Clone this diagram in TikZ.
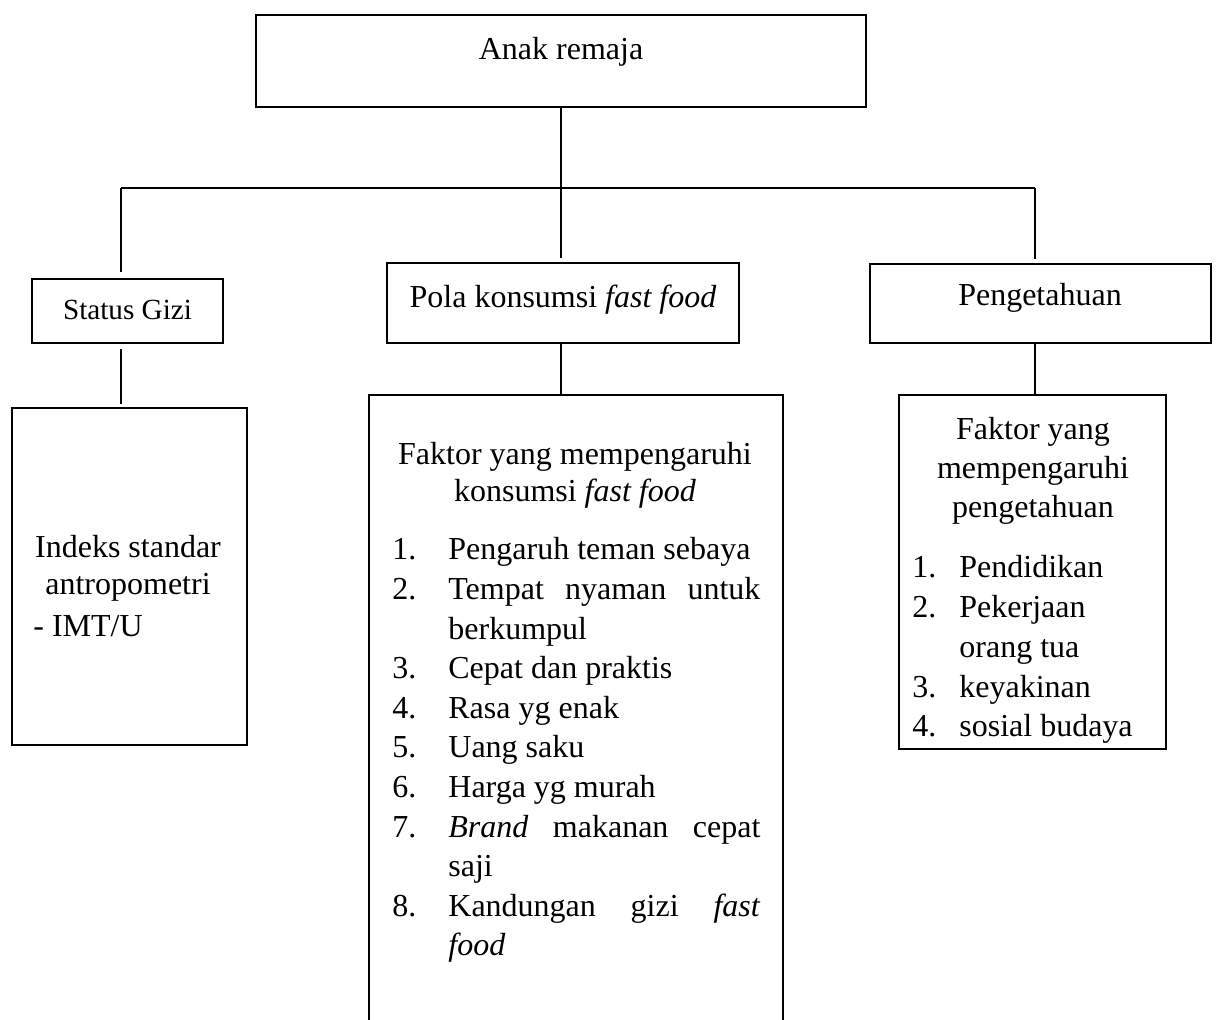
\documentclass[tikz,border=0pt]{standalone}
\usepackage{fontspec}
\setmainfont{Liberation Serif}
\begin{document}
\begin{tikzpicture}[x=0.5pt,y=-0.5pt,
  box/.style={draw, line width=1.25pt, inner sep=0pt, outer sep=0pt, anchor=north west},
  conn/.style={line width=1pt},
  txt/.style={inner sep=0pt, font=\fontsize{16}{19.8}\selectfont}]
\clip (0,0) rectangle (1216,1020);
\fill[white] (0,0) rectangle (1216,1020);

% boxes
\node[box, minimum width=305pt, minimum height=46pt] (top) at (256,15) {};
\node[box, minimum width=95.5pt, minimum height=32pt] (status) at (32,279) {};
\node[box, minimum width=176pt, minimum height=40pt] (pola) at (387,263) {};
\node[box, minimum width=170.5pt, minimum height=39.5pt] (peng) at (870,264) {};
\node[box, minimum width=117.5pt, minimum height=168.5pt] (indeks) at (12,408) {};
\node[box, minimum width=207pt, minimum height=330pt] (faktor) at (369,395) {};
\node[box, minimum width=133.5pt, minimum height=177pt] (faktorp) at (899,395) {};

% connectors
\coordinate (hL) at (121,188);
\coordinate (hR) at (1035,188);
\draw[conn, shorten >=2.5pt] (top.south) -- (top.south |- pola.north);
\draw[conn] (hL) -- (hR);
\draw[conn, shorten >=3.5pt] (hL) -- (hL |- status.north);
\draw[conn, shorten >=2.5pt] (hR) -- (hR |- peng.north);
\draw[conn, shorten <=3pt, shorten >=2pt] (hL |- status.south) -- (hL |- indeks.north);
\draw[conn] (top.south |- pola.south) -- (top.south |- faktor.north);
\draw[conn] (hR |- peng.south) -- (hR |- faktorp.north);

% texts
\node[txt, anchor=base] (tA) at (561,60) {Anak remaja};
\node[txt, anchor=base, font=\fontsize{14.6}{18}\selectfont] (tS) at (127.5,320) {Status Gizi};
\node[txt, anchor=base] (tP) at (563,308) {Pola konsumsi \textit{fast food}};
\node[txt, anchor=base] (tG) at (1040,306) {Pengetahuan};

\node[txt, anchor=base] (tI) at (128,558)
  {\parbox[t]{110pt}{\fontsize{16}{18.5}\selectfont\centering Indeks standar\\antropometri}};
\node[txt, anchor=base west] (tIm) at (33,637) {- IMT/U};

\node[txt, anchor=base] (tF) at (575,465)
  {\parbox[t]{200pt}{\fontsize{16}{18.5}\selectfont\centering Faktor yang mempengaruhi\\konsumsi \textit{fast food}}};
\node[txt, anchor=base west] (tFl) at (392,560)
  {\parbox[t]{190pt}{\fontsize{16}{19.8}\selectfont
   \makebox[28pt][l]{1.}Pengaruh teman sebaya\\
   \makebox[28pt][l]{2.}\makebox[156pt][s]{Tempat nyaman untuk}\\
   \hspace*{28pt}berkumpul\\
   \makebox[28pt][l]{3.}Cepat dan praktis\\
   \makebox[28pt][l]{4.}Rasa yg enak\\
   \makebox[28pt][l]{5.}Uang saku\\
   \makebox[28pt][l]{6.}Harga yg murah\\
   \makebox[28pt][l]{7.}\makebox[156pt][s]{\textit{Brand} makanan cepat}\\
   \hspace*{28pt}saji\\
   \makebox[28pt][l]{8.}\makebox[156pt][s]{Kandungan gizi \textit{fast}}\\
   \hspace*{28pt}\textit{food}}};

\node[txt, anchor=base] (tK) at (1033,440)
  {\parbox[t]{125pt}{\fontsize{16}{19.5}\selectfont\centering Faktor yang\\mempengaruhi\\pengetahuan}};
\node[txt, anchor=base west] (tKl) at (912,578)
  {\parbox[t]{125pt}{\fontsize{16}{19.85}\selectfont
   \makebox[23.5pt][l]{1.}Pendidikan\\
   \makebox[23.5pt][l]{2.}Pekerjaan\\
   \hspace*{23.5pt}orang tua\\
   \makebox[23.5pt][l]{3.}keyakinan\\
   \makebox[23.5pt][l]{4.}sosial budaya}};
\end{tikzpicture}
\end{document}
